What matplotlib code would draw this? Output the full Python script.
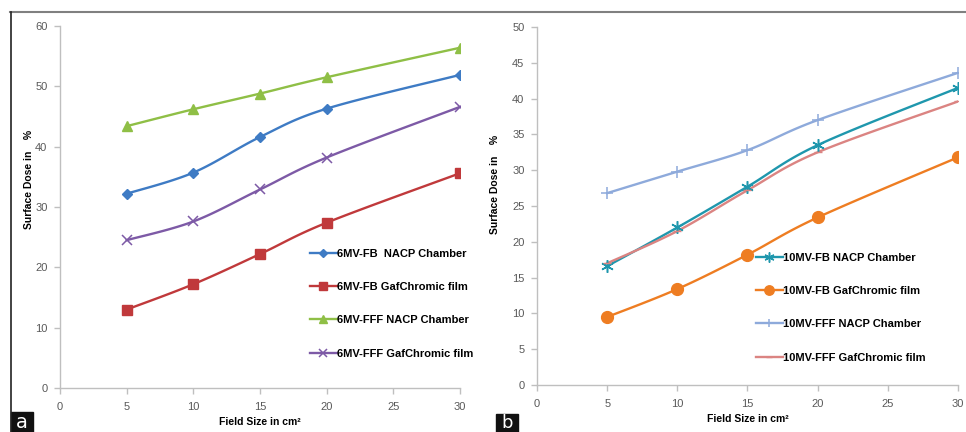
import numpy as np
import matplotlib.pyplot as plt
from matplotlib.patches import Rectangle
from matplotlib.lines import Line2D

plt.rcParams['font.family'] = ['Liberation Sans', 'DejaVu Sans']

field_size = [5, 10, 15, 20, 30]

# panel a: 6 MV
fb6_nacp = [32.2, 35.7, 41.6, 46.3, 51.9]
fb6_film = [13.0, 17.2, 22.2, 27.4, 35.6]
fff6_nacp = [43.4, 46.2, 48.8, 51.5, 56.4]
fff6_film = [24.5, 27.6, 32.9, 38.2, 46.6]

# panel b: 10 MV
fb10_nacp = [16.6, 22.0, 27.7, 33.5, 41.5]
fb10_film = [9.5, 13.4, 18.2, 23.4, 31.8]
fff10_nacp = [26.8, 29.8, 32.8, 37.0, 43.6]
fff10_film = [17.0, 21.5, 27.2, 32.5, 39.6]

labels_a = ['6MV-FB  NACP Chamber', '6MV-FB GafChromic film',
            '6MV-FFF NACP Chamber', '6MV-FFF GafChromic film']
labels_b = ['10MV-FB NACP Chamber', '10MV-FB GafChromic film',
            '10MV-FFF NACP Chamber', '10MV-FFF GafChromic film']


def smooth(x, y, n=30):
    # excel-style smoothed line (bezier through the points)
    p = np.column_stack([x, y]).astype(float)
    p = np.vstack([p[0], p, p[-1]])
    out = []
    for i in range(1, len(p) - 2):
        p0, p1, p2, p3 = p[i - 1], p[i], p[i + 1], p[i + 2]
        c1 = p1 + (p2 - p0) / 6
        c2 = p2 - (p3 - p1) / 6
        t = np.linspace(0, 1, n)[:, None]
        seg = ((1 - t) ** 3) * p1 + 3 * ((1 - t) ** 2) * t * c1 + 3 * (1 - t) * t ** 2 * c2 + t ** 3 * p2
        out.append(seg)
    seg = np.vstack(out)
    return seg[:, 0], seg[:, 1]


def draw(ax, series, styles, labels, ymax, ystep, leg_xy, ylab_xy):
    handles = []
    for ys, st, lab in zip(series, styles, labels):
        sx, sy = smooth(field_size, ys)
        ax.plot(sx, sy, color=st['color'], lw=1.7, zorder=2)
        ax.plot(field_size, ys, ls='none', color=st['color'], marker=st['marker'],
                ms=st['ms'], mew=st.get('mew', 1), zorder=3)
        handles.append(Line2D([], [], color=st['color'], lw=1.7, marker=st['marker'],
                              ms=st['ms'] * 0.8, mew=st.get('mew', 1)))
    ax.set_xlim(0, 30)
    ax.set_ylim(0, ymax)
    ax.set_xticks(range(0, 31, 5))
    ax.set_yticks(range(0, ymax + 1, ystep))
    for s in ['top', 'right']:
        ax.spines[s].set_visible(False)
    for s in ['left', 'bottom']:
        ax.spines[s].set_color('#bfbfbf')
        ax.spines[s].set_linewidth(1)
    ax.tick_params(colors='#bfbfbf', labelcolor='#595959', labelsize=8, length=4, width=1)
    ax.tick_params(axis='y', pad=5)
    ax.tick_params(axis='x', pad=6)
    ax.set_xlabel('Field Size in cm²', fontsize=7.5, fontweight='bold', labelpad=4)
    ax.set_ylabel('Surface Dose in    %', fontsize=7.5, fontweight='bold')
    ax.yaxis.set_label_coords(*ylab_xy)
    ax.patch.set_alpha(0)
    leg = ax.legend(handles, labels, loc='upper left', bbox_to_anchor=leg_xy, frameon=False,
                    prop={'weight': 'bold', 'size': 8}, handlelength=2.4, handletextpad=0.05,
                    labelspacing=2.1, borderpad=0, borderaxespad=0)
    return leg


fig = plt.figure(figsize=(9.66, 4.32), dpi=100)
ax1 = fig.add_axes([0.0621, 0.1019, 0.4141, 0.8379])
ax2 = fig.add_axes([0.5559, 0.1088, 0.4358, 0.8287])

styles_a = [
    dict(color='#3e7bc4', marker='D', ms=5),
    dict(color='#c0393b', marker='s', ms=7),
    dict(color='#8fbf46', marker='^', ms=7.5),
    dict(color='#7d5aa6', marker='x', ms=7, mew=1.1),
]
styles_b = [
    dict(color='#1f97ad', marker=(6, 2, 0), ms=9, mew=1.1),
    dict(color='#ee7d22', marker='o', ms=8.5),
    dict(color='#8eaadb', marker='+', ms=8, mew=1.1),
    dict(color='#db8482', marker='_', ms=6),
]

draw(ax1, [fb6_nacp, fb6_film, fff6_nacp, fff6_film], styles_a, labels_a, 60, 10,
     (0.625, 0.385), (-0.065, 0.575))
draw(ax2, [fb10_nacp, fb10_film, fff10_nacp, fff10_film], styles_b, labels_b, 50, 5,
     (0.52, 0.37), (-0.088, 0.56))

# frame lines and panel tags
fig.add_artist(Line2D([10 / 966, 965 / 966], [0.972, 0.972], color='#808080', lw=1.5))
fig.add_artist(Line2D([10.5 / 966, 10.5 / 966], [0, 0.972], color='#222222', lw=1.2))
fig.add_artist(Rectangle((11 / 966, 0), 22 / 966, 20 / 432, color='#111111'))
fig.add_artist(Rectangle((496 / 966, 0), 22 / 966, 18 / 432, color='#111111'))
fig.text(22 / 966, 10 / 432, 'a', color='white', fontsize=14, ha='center', va='center',
         family='DejaVu Sans')
fig.text(507 / 966, 9 / 432, 'b', color='white', fontsize=13, ha='center', va='center',
         family='DejaVu Sans')

fig.savefig('out.png', dpi=100)
